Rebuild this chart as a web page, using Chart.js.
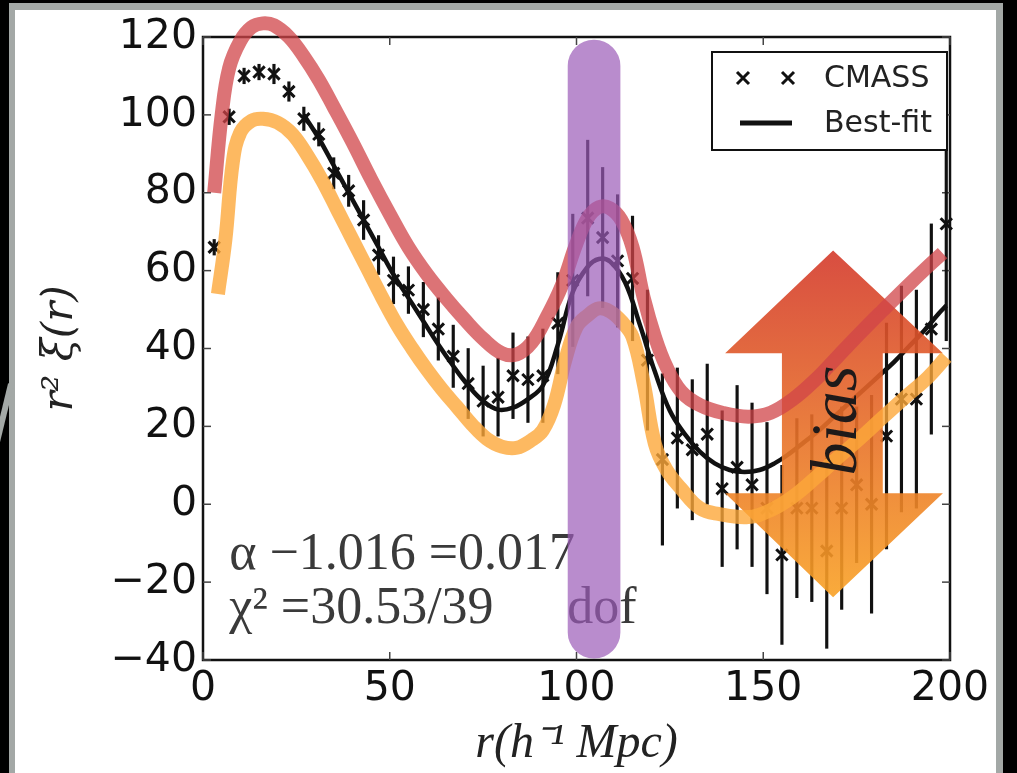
<!DOCTYPE html>
<html><head><meta charset="utf-8">
<script src="https://cdn.jsdelivr.net/npm/chart.js@4.4.1/dist/chart.umd.min.js"></script>
<style>html,body{margin:0;padding:0;background:#000;overflow:hidden}#wrap{position:relative;width:1017px;height:773px}</style>
</head><body><div id="wrap"><canvas id="c" width="1017" height="773"></canvas></div>
<script>
// ---- data ----
const pointR   = [3,7,11,15,19,23,27,31,35,39,43,47,51,55,59,63,67,71,75,79,83,87,91,95,99,103,107,111,115,119,123,127,131,135,139,143,147,151,155,159,163,167,171,175,179,183,187,191,195,199];
const pointV   = [66,99.5,110,111,110.5,106,99,95,85,80.5,73,64,57.5,55,50,45,38,31,26.5,27.5,33,32,33,46.5,57.5,73.5,68.5,62.5,58,37,11.5,17,14,18,4,9.5,5,-1,-13,-1,-1,-12,-1,5,0,17.5,27,27,45,72];
const pointErr = [2,2,2,2,2.5,2.5,3,3,4,4,5,5,6,6,7,8,8,9,9,10,11,11,12,13,17,20,18,17,16,18,22,18,18,18,20,21,21,22,23,23,24,25,26,20,28,29,29,28,27,30];

const fitR = [27,31,35,39,43,47,51,55,59,63,67,71,75,79,83,87,91,95,99,103,106,109,113,117,121,125,129,133,137,141,145,149,153,157,161,165,169,173,177,181,185,189,193,197,199];
const fitV = [100,94,87,80,73,66,59,53,47,41,35.5,30.5,26.5,24.3,24.8,27,30.5,41,54.5,61,63,62.3,57,46,34,24,18,13.5,10.5,8.8,8.3,8.8,10.5,13,16,19,22.5,26,29.5,33,36.5,40.5,44.5,49,51];

const highBiasR = [3,5,7,10,13,16,19,23,27,31,35,40,45,50,55,60,65,70,75,80,84,88,92,96,100,103,106,109,112,115,118,121,124,128,133,139,146,152,158,164,170,176,182,188,194,198];
const highBiasV = [80,100,112,119,122.5,123.5,123,120,115,109,102,93,83.5,74.5,66,59,53,47.5,42.5,38.8,38.5,41.5,48,56,67,73.5,76.3,76,73,66,53,43,35.5,29,25.5,23.5,22.5,23.5,27,32,38,44,49.8,55.5,61,64.5];

const lowBiasR = [4,6,8,10,13,16,20,24,28,32,36,40,44,48,52,56,60,64,68,72,76,80,84,88,91,94,97,100,103,106,109,112,115,118,121,124,128,133,138,146,152,158,164,170,176,182,188,194,199];
const lowBiasV = [54,68,88,95.5,98.5,99,98,95,89.5,83,75.5,68,60.5,53,46,40,34.5,29.5,25,20.5,16.8,14.8,14.5,16.5,19,25.5,37,45.5,48.5,50.3,49.5,47,43,31,15.5,9,4,-1,-2.5,-3.3,-1.5,2,6.8,12,17,22.3,27.5,32.5,37.8];

const bandR  = [104.7];
const bandLo = [-39.5];
const bandHi = [119.2];

const xTicks = [0,50,100,150,200];
const yTicks = [-40,-20,0,20,40,60,80,100,120];
const statLine1 = 'α −1.016 =0.017';
const statLine2a = 'χ² =30.53/39';
const statLine2b = 'dof';
const biasLabel = 'bias';
const seriesNames = ['CMASS','Best-fit'];

// ---- annotation geometry (data units) ----
const arrowSpec = {xc:168.7, headL:139.8, headR:198.1, shaftL:155, shaftR:182, topTip:65.2, topBase:38.8, botBase:2.8, botTip:-23.9};
const statPos = {x:7.0, y1:-13.0, y2:-27.0, dofX:97.5};

const fmt = v => v < 0 ? '\u2212' + Math.abs(v) : String(v);

const bg = {
  id:'bg',
  beforeDraw(chart){
    const c = chart.ctx; c.save();
    c.fillStyle='#000'; c.fillRect(0,0,1017,773);
    c.fillStyle='#a3a8a6'; c.fillRect(9,3,994,790);
    c.fillStyle='#fff'; c.fillRect(15,10,981,790);
    c.strokeStyle='#a3a8a6'; c.lineWidth=6; c.beginPath(); c.moveTo(-3,442); c.lineTo(11,384); c.stroke();
    c.restore();
  },
  beforeDatasetsDraw(chart){
    const c = chart.ctx, {left,right,top,bottom} = chart.chartArea;
    const xs = chart.scales.x, ys = chart.scales.y;
    c.save();
    c.strokeStyle='#111'; c.lineWidth=2.5; c.strokeRect(left,top,right-left,bottom-top);
    c.lineWidth=1.5; c.strokeStyle='#444';
    const ln=(a,b,d,e)=>{c.beginPath();c.moveTo(a,b);c.lineTo(d,e);c.stroke();};
    xTicks.forEach(v=>{const p=xs.getPixelForValue(v); ln(p,bottom,p,bottom-8); ln(p,top,p,top+8);});
    yTicks.forEach(v=>{const p=ys.getPixelForValue(v); ln(left,p,left+8,p); ln(right,p,right-8,p);});
    c.fillStyle='#3a3a3a'; c.font='52px "Liberation Serif"'; c.textBaseline='middle'; c.textAlign='left';
    c.fillText(statLine1, xs.getPixelForValue(statPos.x), ys.getPixelForValue(statPos.y1));
    c.fillText(statLine2a, xs.getPixelForValue(statPos.x), ys.getPixelForValue(statPos.y2));
    c.fillText(statLine2b, xs.getPixelForValue(statPos.dofX), ys.getPixelForValue(statPos.y2));
    c.restore();
  },
  beforeDatasetDraw(chart, args){
    if (chart.data.datasets[args.index].id !== 'low') return;
    const c = chart.ctx, xs = chart.scales.x, ys = chart.scales.y, a = arrowSpec;
    const X = v=>xs.getPixelForValue(v), Y = v=>ys.getPixelForValue(v);
    c.save();
    const g = c.createLinearGradient(0,Y(a.topTip),0,Y(a.botTip));
    g.addColorStop(0,'rgba(212,58,44,0.9)'); g.addColorStop(1,'rgba(249,162,38,0.9)');
    c.fillStyle = g;
    c.beginPath();
    c.moveTo(X(a.xc),Y(a.topTip)); c.lineTo(X(a.headR),Y(a.topBase)); c.lineTo(X(a.shaftR),Y(a.topBase));
    c.lineTo(X(a.shaftR),Y(a.botBase)); c.lineTo(X(a.headR),Y(a.botBase)); c.lineTo(X(a.xc),Y(a.botTip));
    c.lineTo(X(a.headL),Y(a.botBase)); c.lineTo(X(a.shaftL),Y(a.botBase)); c.lineTo(X(a.shaftL),Y(a.topBase));
    c.lineTo(X(a.headL),Y(a.topBase)); c.closePath(); c.fill();
    c.restore();
  },
  afterDatasetsDraw(chart){
    const c = chart.ctx, {right,top} = chart.chartArea;
    const xs = chart.scales.x, ys = chart.scales.y;
    c.save();
    c.translate(xs.getPixelForValue(170.3), ys.getPixelForValue(21.5));
    c.rotate(-Math.PI/2);
    c.fillStyle='#1e1a1a'; c.font='italic 66px "Liberation Serif"'; c.textAlign='center'; c.textBaseline='middle';
    c.fillText(biasLabel,0,0);
    c.restore();
    c.save();
    const bx = right-238, by = top+15, bw = 235, bh = 98;
    c.fillStyle='#fff'; c.fillRect(bx,by,bw,bh);
    c.strokeStyle='#111'; c.lineWidth=2; c.strokeRect(bx,by,bw,bh);
    c.lineWidth=3; c.strokeStyle='#111';
    const cross=(x,y,s)=>{c.beginPath();c.moveTo(x-s,y-s);c.lineTo(x+s,y+s);c.moveTo(x-s,y+s);c.lineTo(x+s,y-s);c.stroke();};
    cross(bx+31,by+26,6); cross(bx+76,by+26,6);
    c.lineWidth=5; c.beginPath(); c.moveTo(bx+28,by+71); c.lineTo(bx+80,by+71); c.stroke();
    c.fillStyle='#222'; c.font='30px "DejaVu Sans"'; c.textBaseline='middle'; c.textAlign='left';
    c.fillText(seriesNames[0], bx+112, by+27);
    c.fillText(seriesNames[1], bx+112, by+72);
    c.restore();
  }
};

const errData = pointR.map((r,i)=>({x:r, y:[pointV[i]-pointErr[i], pointV[i]+pointErr[i]]}));
const ptData  = pointR.map((r,i)=>({x:r, y:pointV[i]}));
const fitData = fitR.map((r,i)=>({x:r, y:fitV[i]}));
const hiData  = highBiasR.map((r,i)=>({x:r, y:highBiasV[i]}));
const loData  = lowBiasR.map((r,i)=>({x:r, y:lowBiasV[i]}));
const bandData= bandR.map((r,i)=>({x:r, y:[bandLo[i], bandHi[i]]}));

new Chart(document.getElementById('c'), {
  type:'line',
  data:{datasets:[
    {type:'bar', label:'err', data:errData, backgroundColor:'#111', barThickness:2.5, grouped:false, order:7, clip:false},
    {type:'line', label:seriesNames[0], data:ptData, showLine:false, pointStyle:'crossRot', pointRadius:8, borderColor:'#111', pointBorderWidth:3, order:6, clip:false},
    {type:'line', label:seriesNames[1], data:fitData, borderColor:'#111', borderWidth:4.5, pointRadius:0, tension:0.4, fill:false, order:5, clip:false},
    {id:'low', type:'line', label:'low', data:loData, borderColor:'rgba(253,168,58,0.8)', borderWidth:14, pointRadius:0, tension:0.4, fill:false, order:3, clip:false, borderCapStyle:'butt', borderJoinStyle:'round'},
    {type:'line', label:'high', data:hiData, borderColor:'rgba(208,68,72,0.75)', borderWidth:14, pointRadius:0, tension:0.4, fill:false, order:2, clip:false, borderCapStyle:'butt', borderJoinStyle:'round'},
    {type:'bar', label:'band', data:bandData, backgroundColor:'rgba(155,91,184,0.7)', barThickness:52, borderRadius:26, borderSkipped:false, grouped:false, order:1, clip:false}
  ]},
  options:{
    responsive:false, animation:false, devicePixelRatio:1,
    layout:{padding:{left:0, top:37, right:67, bottom:0}},
    plugins:{legend:{display:false}, tooltip:{enabled:false}},
    scales:{
      x:{type:'linear', min:0, max:200, offset:false,
        grid:{display:false, offset:false, drawTicks:false}, border:{display:false},
        afterBuildTicks: s => { s.ticks = xTicks.map(v=>({value:v})); },
        ticks:{color:'#111', font:{family:'DejaVu Sans', size:41}, padding:5, maxRotation:0, autoSkip:false, callback:v=>fmt(v)},
        title:{display:true, text:'r(h\u207B\u00B9 Mpc)', color:'#222', font:{family:'Liberation Serif', size:48, style:'italic'}, padding:{top:0,bottom:0}},
        afterFit: s => { s.height = 113; }
      },
      y:{type:'linear', min:-40, max:120, beginAtZero:false,
        grid:{display:false, drawTicks:false}, border:{display:false},
        afterBuildTicks: s => { s.ticks = yTicks.map(v=>({value:v})); },
        ticks:{color:'#111', font:{family:'DejaVu Sans', size:41}, padding:6, autoSkip:false, callback:v=>fmt(v)},
        title:{display:true, text:'r\u00B2 \u03BE(r)', color:'#222', font:{family:'DejaVu Serif', size:42, style:'italic'}, padding:{top:36,bottom:0}},
        afterFit: s => { s.width = 203; }
      }
    }
  },
  plugins:[bg]
});
</script></body></html>
